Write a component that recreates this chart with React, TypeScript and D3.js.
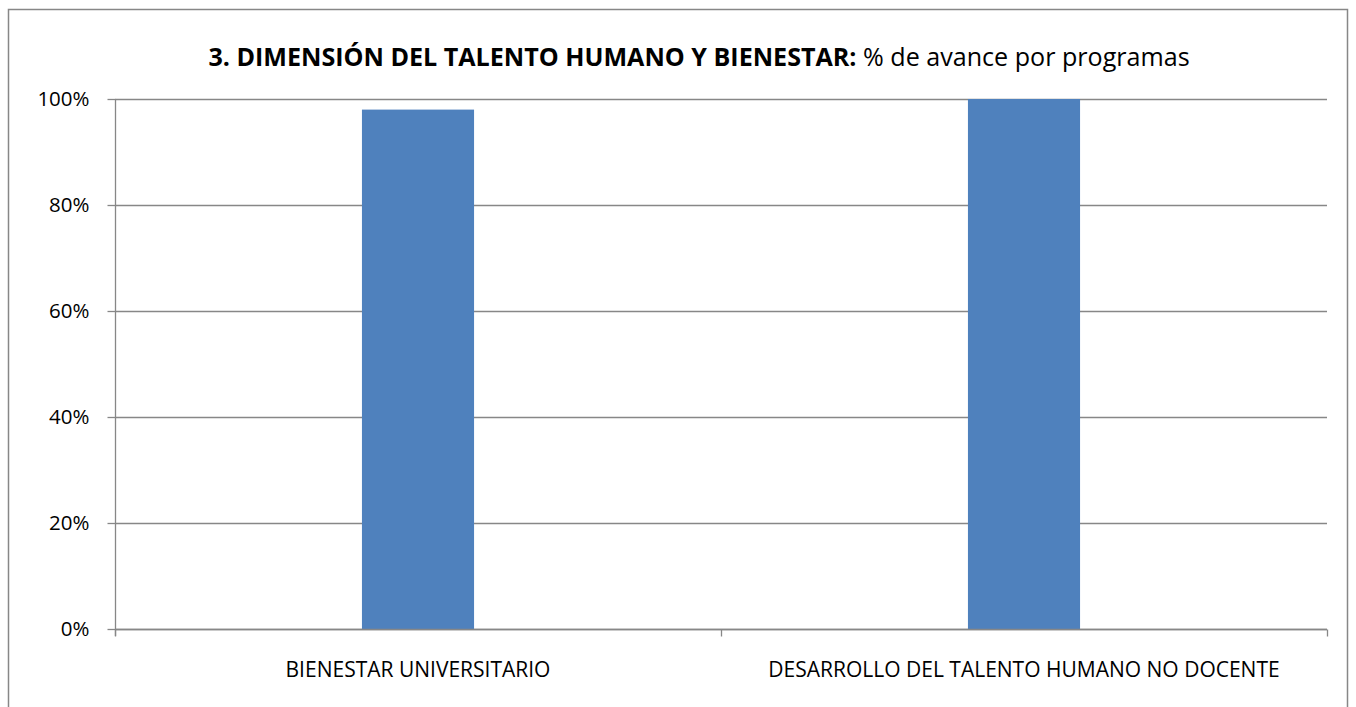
import React, { useRef, useEffect } from 'react'
import * as d3 from 'd3'

const programas = ['BIENESTAR UNIVERSITARIO', 'DESARROLLO DEL TALENTO HUMANO NO DOCENTE']
const avance = [0.98, 1.0]
const yTicks = [0, 0.2, 0.4, 0.6, 0.8, 1.0]

const width = 1356
const height = 707
const margin = { top: 99, right: 29, bottom: 78, left: 115 }
const font = "'Open Sans', 'Noto Sans', sans-serif"

export default function App() {
  const ref = useRef<SVGGElement>(null)

  useEffect(() => {
    const g = d3.select(ref.current)
    g.selectAll('*').remove()

    const bodyW = width - margin.left - margin.right
    const bodyH = height - margin.top - margin.bottom

    const x = d3.scaleBand().domain(programas).range([0, bodyW]).paddingInner(0).paddingOuter(0)
    const y = d3.scaleLinear().domain([0, 1]).range([bodyH, 0])

    const body = g.append('g').attr('transform', `translate(${margin.left},${margin.top})`)

    // grid lines
    body
      .selectAll('line.grid')
      .data(yTicks)
      .join('line')
      .attr('x1', 0)
      .attr('x2', bodyW)
      .attr('y1', d => Math.round(y(d)) + 0.5)
      .attr('y2', d => Math.round(y(d)) + 0.5)
      .attr('stroke', '#878787')
      .attr('stroke-width', 1.3)

    // bars
    const bw = x.bandwidth() * 0.185
    body
      .selectAll('rect.bar')
      .data(programas)
      .join('rect')
      .attr('x', d => x(d)! + x.bandwidth() / 2 - bw / 2)
      .attr('y', (d, i) => y(avance[i]))
      .attr('width', bw)
      .attr('height', (d, i) => bodyH - y(avance[i]))
      .attr('fill', '#4F81BD')

    // y axis
    const yAxis = body
      .append('g')
      .attr('transform', 'translate(0.5,0)')
      .call(d3.axisLeft(y).tickValues(yTicks).tickFormat(d3.format('.0%')).tickSize(8).tickPadding(18))
    yAxis.select('.domain').attr('stroke', '#878787').attr('stroke-width', 1.3).attr('d', `M0,0V${bodyH + 7}`)
    yAxis.selectAll('.tick line').attr('stroke', '#878787').attr('stroke-width', 1.3)
    yAxis
      .selectAll('.tick text')
      .attr('fill', '#000')
      .style('font-family', font)
      .style('font-size', '20.5px')

    // x axis
    const xAxis = body
      .append('g')
      .attr('transform', `translate(0,${Math.round(bodyH) + 0.5})`)
      .call(d3.axisBottom(x).tickSize(0).tickPadding(0))
    xAxis.select('.domain').attr('stroke', '#878787').attr('stroke-width', 1.3).attr('d', `M0,0H${bodyW}`)
    xAxis.selectAll('.tick text').remove()
    xAxis
      .selectAll('.tick line')
      .remove()
    const bounds = [0, bodyW / 2, bodyW]
    xAxis
      .selectAll('line.sep')
      .data(bounds)
      .join('line')
      .attr('x1', d => Math.round(d) + 0.5)
      .attr('x2', d => Math.round(d) + 0.5)
      .attr('y1', 0)
      .attr('y2', 7)
      .attr('stroke', '#878787')
      .attr('stroke-width', 1.3)
    xAxis
      .selectAll('text.cat')
      .data(programas)
      .join('text')
      .attr('x', d => x(d)! + x.bandwidth() / 2)
      .attr('y', 47)
      .attr('text-anchor', 'middle')
      .attr('fill', '#000')
      .style('font-family', font)
      .style('font-size', '21px')
      .text(d => d)
  }, [])

  return (
    <svg width={width} height={height} style={{ position: 'absolute', left: 0, top: 0, background: '#fff' }}>
      <rect x={8.5} y={9.5} width={1339} height={760} fill="#fff" stroke="#878787" strokeWidth={1.5} />
      <text x={699} y={66} textAnchor="middle" fontFamily={font} fontSize={25.1} fill="#000">
        <tspan fontWeight="bold">3. DIMENSIÓN DEL TALENTO HUMANO Y BIENESTAR:</tspan>
        <tspan> % de avance por programas</tspan>
      </text>
      <g ref={ref} />
    </svg>
  )
}
